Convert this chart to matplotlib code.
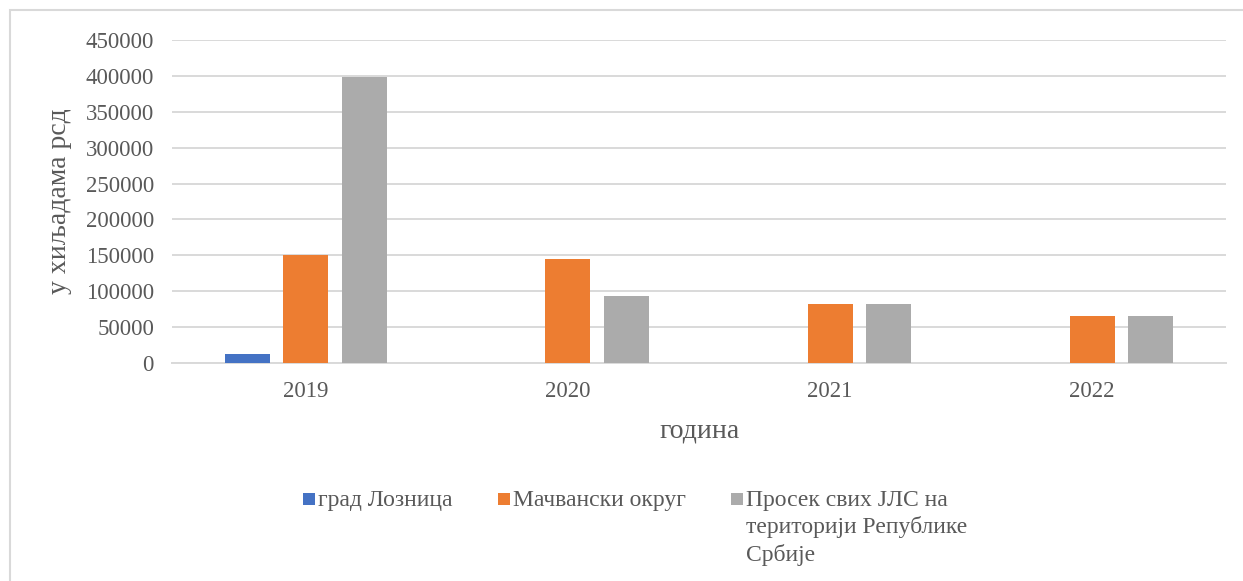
import matplotlib
matplotlib.use("Agg")
import matplotlib.pyplot as plt
from matplotlib.patches import Rectangle
import numpy as np

years = ["2019", "2020", "2021", "2022"]
series_names = ["град Лозница", "Мачвански округ", "Просек свих ЈЛС на\nтериторији Републике\nСрбије"]
loznica = [12000, 0, 0, 0]
macva = [150000, 145000, 82000, 66000]
serbia_avg = [399000, 93000, 82000, 66000]
yticks = [0, 50000, 100000, 150000, 200000, 250000, 300000, 350000, 400000, 450000]
colors = ["#4472C4", "#ED7D31", "#ABABAB"]

W, H = 1243, 581
plt.rcParams['font.family'] = ['Liberation Serif', 'DejaVu Serif']
txt = "#595959"

fig = plt.figure(figsize=(W / 100, H / 100), dpi=100)
fig.patch.set_facecolor("white")
# outer chart frame
fig.patches.append(Rectangle((10 / W, -0.1), 1.2, (H - 10) / H + 0.1, transform=fig.transFigure,
                             fill=False, edgecolor="#D9D9D9", linewidth=1.5))

ax = fig.add_axes([172 / W, (H - 363) / H, (1226 - 172) / W, (363 - 40) / H])
x = np.arange(len(years))
bw = 45 / 262
step = 58.5 / 262
for i, (vals, c) in enumerate(zip([loznica, macva, serbia_avg], colors)):
    ax.bar(x + (i - 1) * step, vals, width=bw, color=c, zorder=3)

ax.set_xlim(-0.511, 3.511)
ax.set_ylim(0, 450000)
ax.set_yticks(yticks)
ax.set_yticklabels([str(v) for v in yticks])
ax.set_xticks(x)
ax.set_xticklabels(years)
ax.grid(axis="y", color="#D9D9D9", linewidth=1.4, zorder=0)
for s in ["top", "right", "left"]:
    ax.spines[s].set_visible(False)
ax.spines["bottom"].set_color("#D9D9D9")
ax.spines["bottom"].set_linewidth(1.4)
ax.tick_params(axis="both", length=0, labelsize=16.5, colors=txt)
ax.tick_params(axis="y", pad=13)
ax.tick_params(axis="x", pad=13)

fig.text(60 / W, 1 - 201 / H, "у хиљадама рсд", rotation=90, ha="center", va="center",
         fontsize=20, color=txt)
fig.text(700 / W, 1 - 431 / H, "година", ha="center", va="center", fontsize=20, color=txt)

# legend
leg_x = [303, 498, 731]
for lx, name, c in zip(leg_x, series_names, colors):
    fig.patches.append(Rectangle((lx / W, 1 - 505 / H), 12 / W, 12 / H, transform=fig.transFigure,
                                 facecolor=c, edgecolor="none"))
    fig.text((lx + 15) / W, 1 - 490 / H, name, ha="left", va="top", fontsize=17, color=txt,
             linespacing=1.32)

fig.savefig("out.png", dpi=100, facecolor="white")
